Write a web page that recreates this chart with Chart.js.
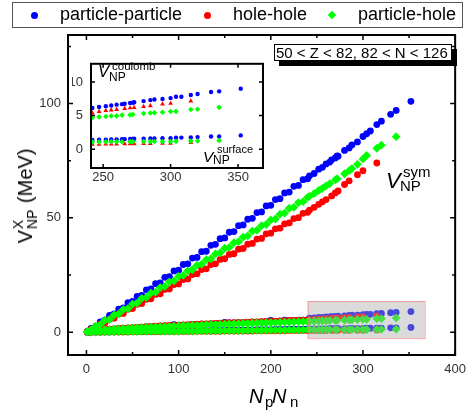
<!DOCTYPE html>
<html>
<head>
<meta charset="utf-8">
<script src="https://cdn.jsdelivr.net/npm/chart.js"></script>
<style>
body { margin: 0; background: #fff; }
#wrap { position: relative; width: 473px; height: 417px; overflow: hidden;
        font-family: Arial, "Liberation Sans", sans-serif; color: #000; }
#wrap canvas { position: absolute; }
.t { position: absolute; white-space: nowrap; line-height: 1; }
.i { font-style: italic; }
.legbox { position: absolute; left: 12px; top: 2px; width: 449px; height: 24px; border: 1px solid #555; }
.mk { position: absolute; }
.zbox { position: absolute; left: 274px; top: 44px; width: 178px; height: 17px; box-sizing: border-box;
        border: 1px solid #000; background: #fff; box-shadow: 5px 5px 0 #000;
        font-size: 15px; line-height: 15px; padding-left: 1px; white-space: nowrap; }
#ytitle { position: absolute; left: 25px; top: 196px; transform: translate(-50%, -50%) rotate(-90deg);
          font-size: 20px; white-space: nowrap; display: flex; align-items: center; }
#ytitle .stk { display: inline-flex; flex-direction: column; font-size: 14px; line-height: 1; margin: 0 1px; }
</style>
</head>
<body>
<div id="wrap">
  <canvas id="mainChart" width="473" height="417" style="left:0;top:0"></canvas>
  <canvas id="insetChart" width="198" height="140" style="left:72px;top:48px"></canvas>

  <div class="legbox"></div>
  <span class="mk" style="left:30.5px;top:11.5px;width:7px;height:7px;border-radius:50%;background:#0000ff"></span>
  <span class="t" style="left:60px;top:5px;font-size:18px">particle-particle</span>
  <span class="mk" style="left:203.5px;top:11.5px;width:7px;height:7px;border-radius:50%;background:#ff0000"></span>
  <span class="t" style="left:233px;top:5px;font-size:18px">hole-hole</span>
  <span class="mk" style="left:329px;top:12px;width:6px;height:6px;background:#00ff00;transform:rotate(45deg)"></span>
  <span class="t" style="left:358px;top:5px;font-size:18px">particle-hole</span>

  <div class="zbox">50 &lt; Z &lt; 82, 82 &lt; N &lt; 126</div>

  <span class="t i" style="left:386px;top:170px;font-size:22px">V</span>
  <span class="t" style="left:403px;top:164px;font-size:15px">sym</span>
  <span class="t" style="left:400px;top:178px;font-size:15px">NP</span>

  <span class="t i" style="left:98px;top:63px;font-size:16.5px">V</span>
  <span class="t" style="left:112px;top:60.5px;font-size:11.5px">coulomb</span>
  <span class="t" style="left:109px;top:70.5px;font-size:12px">NP</span>

  <span class="t i" style="left:203px;top:149px;font-size:15.5px">V</span>
  <span class="t" style="left:217px;top:143.5px;font-size:11px">surface</span>
  <span class="t" style="left:213px;top:153.5px;font-size:12px">NP</span>

  <div id="ytitle"><span>V</span><span class="stk"><span>X</span><span>NP</span></span><span>&nbsp;(MeV)</span></div>

  <span class="t i" style="left:249px;top:386px;font-size:20px">N</span>
  <span class="t" style="left:265px;top:394px;font-size:15px">p</span>
  <span class="t i" style="left:272px;top:386px;font-size:20px">N</span>
  <span class="t" style="left:290px;top:394px;font-size:15px">n</span>
</div>

<script>
// NpNn values of the densely filled part (x <= 240), shared by the three groups
const npnnLow = [1, 5, 10, 15, 20, 25, 30, 35, 40, 45, 50, 55, 60, 65, 70, 75, 80, 85, 90, 95,
  100, 105, 110, 115, 120, 125, 130, 135, 140, 145, 150, 155, 160, 165, 170, 175, 180, 185, 190, 195,
  200, 205, 210, 215, 220, 225, 230, 235, 240];

// discrete NpNn values above 240 (the zoomed region)
const npnnTailPP = [242, 247, 252, 256, 260, 264, 266, 270, 272, 273, 280, 285, 288, 294, 300, 304, 308, 315, 320, 330, 336, 352];
const npnnTailHH = [242, 247, 252, 256, 260, 266, 270, 273, 280, 285, 294, 300, 315];
const npnnTailPH = [242, 247, 252, 256, 260, 264, 270, 272, 280, 285, 288, 294, 300, 304, 315, 320, 336];

// particle-particle (low part, then tail)
const symPP = [0.3, 1.6, 2.5, 4.5, 5.2, 7.3, 8.0, 10.1, 10.6, 12.9, 13.4, 15.6, 16.1, 18.5, 18.9, 21.2, 21.5, 24.0, 24.3, 26.8,
  27.1, 29.6, 29.9, 32.4, 32.7, 35.2, 35.4, 38.0, 38.4, 40.9, 41.2, 43.7, 44.0, 46.6, 46.9, 49.4, 49.8, 52.3, 52.6, 55.2,
  55.5, 58.0, 58.4, 60.9, 61.3, 63.8, 64.2, 66.7, 67.1,
  68.4, 69.4, 71.3, 72.1, 73.6, 74.4, 75.4, 76.2, 77.1, 77.0, 79.5, 80.6, 81.9, 83.2, 85.6, 86.8, 88.0, 90.8, 92.3, 95.3, 97.0, 101.0];
const coulPP = [0.1, 0.4, 0.6, 0.8, 1.0, 1.2, 1.3, 1.5, 1.6, 1.8, 1.9, 2.0, 2.1, 2.3, 2.4, 2.5, 2.6, 2.7, 2.8, 3.3,
  3.0, 3.1, 3.2, 3.3, 3.4, 3.5, 3.5, 3.6, 3.7, 3.8, 4.3, 4.0, 4.0, 4.1, 4.2, 4.3, 4.4, 4.4, 4.5, 4.6,
  5.1, 4.7, 4.8, 5.3, 5.0, 5.0, 5.1, 5.2, 5.3,
  6.13, 6.27, 6.4, 6.5, 6.62, 6.7, 6.75, 6.87, 6.9, 6.98, 7.15, 7.3, 7.4, 7.47, 7.6, 7.8, 7.8, 8.05, 8.2, 8.5, 8.6, 9.0];
const surfPP = [0.0, 0.0, 0.1, 0.1, 0.1, 0.1, 0.2, 0.2, 0.2, 0.3, 0.3, 0.3, 0.3, 0.4, 0.4, 0.4, 0.5, 0.5, 0.5, 0.5,
  0.6, 0.6, 0.6, 0.7, 0.7, 0.7, 0.7, 0.8, 0.8, 0.8, 0.9, 0.9, 0.9, 0.9, 1.0, 1.0, 1.0, 1.1, 1.1, 1.1,
  1.1, 1.2, 1.2, 1.2, 1.3, 1.3, 1.3, 1.3, 1.4,
  1.38, 1.4, 1.42, 1.44, 1.46, 1.48, 1.5, 1.52, 1.53, 1.54, 1.56, 1.58, 1.6, 1.62, 1.63, 1.7, 1.72, 1.74, 1.8, 1.88, 1.9, 2.05];

// hole-hole
const symHH = [0.2, 1.3, 1.9, 3.5, 4.0, 5.7, 6.1, 7.9, 8.2, 10.0, 10.3, 12.2, 12.5, 14.4, 14.6, 16.5, 16.8, 18.7, 18.9, 20.8,
  21.1, 23.0, 23.3, 25.2, 25.5, 27.4, 27.7, 29.6, 29.9, 31.8, 32.1, 34.0, 34.3, 36.3, 36.6, 38.5, 38.8, 40.7, 41.0, 43.0,
  43.3, 45.2, 45.5, 47.4, 47.8, 49.7, 50.1, 52.0, 52.4,
  53.4, 54.6, 55.9, 57.0, 58.0, 59.6, 60.9, 61.8, 64.6, 66.2, 68.9, 70.6, 74.0];
const coulHH = [0.2, 0.5, 0.7, 0.9, 1.1, 1.3, 1.4, 1.6, 1.7, 1.9, 2.0, 2.1, 2.2, 2.4, 2.5, 2.6, 2.7, 2.8, 2.9, 3.0,
  3.1, 3.2, 3.3, 3.4, 3.5, 3.6, 3.6, 3.7, 3.8, 3.9, 4.0, 4.1, 4.1, 4.2, 4.3, 4.4, 4.5, 4.5, 4.6, 4.7,
  4.8, 4.8, 4.9, 5.0, 5.1, 5.1, 5.2, 5.3, 5.4,
  5.38, 5.6, 5.73, 5.82, 5.9, 6.05, 6.13, 6.18, 6.35, 6.45, 6.7, 6.8, 7.15];
const surfHH = [0.0, 0.0, 0.0, 0.0, 0.1, 0.1, 0.1, 0.1, 0.1, 0.1, 0.2, 0.2, 0.2, 0.2, 0.2, 0.2, 0.2, 0.3, 0.3, 0.3,
  0.3, 0.3, 0.3, 0.3, 0.4, 0.4, 0.4, 0.4, 0.4, 0.4, 0.5, 0.5, 0.5, 0.5, 0.5, 0.5, 0.5, 0.6, 0.6, 0.6,
  0.6, 0.6, 0.6, 0.6, 0.7, 0.7, 0.7, 0.7, 0.7,
  0.71, 0.72, 0.74, 0.75, 0.76, 0.78, 0.79, 0.8, 0.82, 0.83, 0.86, 0.88, 0.98];

// particle-hole
const symPH = [0.3, 1.0, 2.6, 3.3, 5.2, 5.5, 7.5, 8.0, 9.9, 10.3, 12.3, 12.7, 14.8, 15.2, 17.1, 17.5, 19.5, 20.0, 22.0, 22.4,
  24.4, 24.8, 26.8, 27.3, 29.3, 29.7, 31.7, 32.1, 34.2, 34.7, 36.7, 37.1, 39.1, 39.6, 41.6, 42.1, 44.2, 44.6, 46.6, 47.1,
  49.1, 49.5, 51.6, 52.1, 54.2, 54.6, 56.7, 57.1, 59.0,
  59.5, 60.6, 62.0, 62.9, 64.0, 65.0, 66.6, 67.1, 69.3, 70.6, 71.5, 73.4, 75.8, 77.3, 80.4, 81.8, 85.5];
const coulPH = [0.2, 0.4, 0.6, 0.8, 1.0, 1.1, 1.3, 1.4, 1.5, 1.6, 1.7, 1.9, 2.0, 2.1, 2.2, 2.3, 2.3, 2.4, 2.5, 2.6,
  2.7, 2.8, 2.9, 2.9, 3.0, 3.1, 3.2, 3.3, 3.3, 3.4, 3.5, 3.6, 3.6, 3.7, 3.8, 3.8, 3.9, 4.0, 4.0, 4.1,
  4.2, 4.2, 4.3, 4.4, 4.4, 4.5, 4.6, 4.6, 4.7,
  4.7, 4.8, 4.85, 4.93, 4.95, 5.07, 5.1, 5.15, 5.3, 5.38, 5.42, 5.5, 5.6, 5.62, 5.9, 5.93, 6.22];
const surfPH = [0.0, 0.0, 0.0, 0.1, 0.1, 0.1, 0.1, 0.2, 0.2, 0.2, 0.2, 0.2, 0.3, 0.3, 0.3, 0.3, 0.4, 0.4, 0.4, 0.4,
  0.4, 0.5, 0.5, 0.5, 0.5, 0.6, 0.6, 0.6, 0.6, 0.6, 0.7, 0.7, 0.7, 0.7, 0.7, 0.8, 0.8, 0.8, 0.8, 0.9,
  0.9, 0.9, 0.9, 0.9, 1.0, 1.0, 1.0, 1.0, 1.1,
  1.07, 1.08, 1.09, 1.1, 1.1, 1.11, 1.12, 1.12, 1.13, 1.14, 1.14, 1.15, 1.15, 1.16, 1.2, 1.22, 1.29];

// ticks
const mainXTicks = [0, 100, 200, 300, 400];
const mainXMinor = [50, 150, 250, 350];
const mainYTicks = [0, 50, 100];
const mainYMinor = [25, 75, 125];
const insetXTicks = [250, 300, 350];
const insetYTicks = [0, 5, 10];

// shaded region in the main plot that the inset magnifies
const zoomRegion = { x0: 240, x1: 367, y0: -2.6, y1: 13.6 };

Chart.defaults.font.family = 'Arial, "Liberation Sans", sans-serif';
Chart.defaults.color = '#333';

function pts(xs, ys) {
  return xs.map((x, i) => ({ x: x, y: ys[i] }));
}

const xPP = npnnLow.concat(npnnTailPP);
const xHH = npnnLow.concat(npnnTailHH);
const xPH = npnnLow.concat(npnnTailPH);

// first listed is drawn on top in Chart.js
const groups = [
  { xs: xPH, sym: symPH, coul: coulPH, surf: surfPH, color: '#00ff00', style: 'rectRot', r: 4.4, styleIn: 'rectRot', rIn: 2.8 },
  { xs: xHH, sym: symHH, coul: coulHH, surf: surfHH, color: '#ff0000', style: 'circle', r: 3.4, styleIn: 'triangle', rIn: 2.8 },
  { xs: xPP, sym: symPP, coul: coulPP, surf: surfPP, color: '#0000ff', style: 'circle', r: 3.4, styleIn: 'circle', rIn: 2.2 }
];

function ds(g, ys, style, r) {
  return {
    data: pts(g.xs, ys),
    pointStyle: style,
    pointRadius: r,
    pointBackgroundColor: g.color,
    pointBorderColor: g.color,
    pointBorderWidth: 0,
    showLine: false
  };
}

function frameTicks(xMajor, xMinor, yMajor, yMinor, big, small) {
  return {
    id: 'frameTicks',
    afterDraw(chart) {
      const { ctx, chartArea: a } = chart;
      const x = chart.scales.x, y = chart.scales.y;
      ctx.save();
      ctx.strokeStyle = '#000';
      ctx.lineWidth = 1.5;
      ctx.beginPath();
      [[xMajor, big], [xMinor, small]].forEach(([vals, len]) => {
        vals.forEach(v => {
          const px = x.getPixelForValue(v);
          ctx.moveTo(px, a.bottom); ctx.lineTo(px, a.bottom - len);
          ctx.moveTo(px, a.top); ctx.lineTo(px, a.top + len);
        });
      });
      [[yMajor, big], [yMinor, small]].forEach(([vals, len]) => {
        vals.forEach(v => {
          const py = y.getPixelForValue(v);
          ctx.moveTo(a.left, py); ctx.lineTo(a.left + len, py);
          ctx.moveTo(a.right, py); ctx.lineTo(a.right - len, py);
        });
      });
      ctx.stroke();
      ctx.lineWidth = 2;
      ctx.strokeRect(a.left, a.top, a.right - a.left, a.bottom - a.top);
      ctx.restore();
    }
  };
}

const shade = {
  id: 'shade',
  afterDatasetsDraw(chart) {
    const { ctx } = chart;
    const x = chart.scales.x, y = chart.scales.y;
    const l = x.getPixelForValue(zoomRegion.x0), r = x.getPixelForValue(zoomRegion.x1);
    const t = y.getPixelForValue(zoomRegion.y1), b = y.getPixelForValue(zoomRegion.y0);
    ctx.save();
    ctx.fillStyle = 'rgba(170,170,170,0.42)';
    ctx.fillRect(l, t, r - l, b - t);
    ctx.strokeStyle = 'rgba(255,110,110,0.6)';
    ctx.lineWidth = 1;
    ctx.strokeRect(l + 0.5, t + 0.5, r - l, b - t);
    ctx.restore();
  }
};

const whiteArea = {
  id: 'whiteArea',
  beforeDatasetsDraw(chart) {
    const { ctx, chartArea: a } = chart;
    ctx.save();
    ctx.fillStyle = '#fff';
    ctx.fillRect(a.left, a.top, a.right - a.left, a.bottom - a.top);
    ctx.restore();
  }
};

const mainSets = [];
groups.forEach(g => {
  mainSets.push(ds(g, g.sym, g.style, g.r));
  mainSets.push(ds(g, g.coul, g.style, g.r));
  mainSets.push(ds(g, g.surf, g.style, g.r));
});

new Chart(document.getElementById('mainChart'), {
  type: 'scatter',
  data: { datasets: mainSets },
  options: {
    responsive: false,
    animation: false,
    devicePixelRatio: 1,
    layout: { padding: { left: 0, top: 35, right: 10, bottom: 0 } },
    plugins: { legend: { display: false }, tooltip: { enabled: false } },
    scales: {
      x: {
        type: 'linear', min: -20, max: 400,
        grid: { display: false, drawTicks: false },
        border: { display: false },
        ticks: { font: { size: 13 }, padding: 7, maxRotation: 0 },
        afterBuildTicks: s => { s.ticks = mainXTicks.map(v => ({ value: v })); },
        afterFit: s => { s.height = 62; }
      },
      y: {
        type: 'linear', min: -10, max: 130,
        grid: { display: false, drawTicks: false },
        border: { display: false },
        ticks: { font: { size: 13 }, padding: 7 },
        afterBuildTicks: s => { s.ticks = mainYTicks.map(v => ({ value: v })); },
        afterFit: s => { s.width = 68; }
      }
    }
  },
  plugins: [shade, frameTicks(mainXTicks, mainXMinor, mainYTicks, mainYMinor, 5, 3)]
});

const insetSets = [];
groups.forEach(g => {
  insetSets.push(ds(g, g.coul, g.styleIn, g.rIn));
  insetSets.push(ds(g, g.surf, g.styleIn, g.rIn));
});

new Chart(document.getElementById('insetChart'), {
  type: 'scatter',
  data: { datasets: insetSets },
  options: {
    responsive: false,
    animation: false,
    devicePixelRatio: 1,
    layout: { padding: { left: 0, top: 4, right: 7, bottom: 0 } },
    plugins: { legend: { display: false }, tooltip: { enabled: false } },
    scales: {
      x: {
        type: 'linear', min: 241, max: 368.5,
        grid: { display: false, drawTicks: false },
        border: { display: false },
        ticks: { font: { size: 13 }, padding: 1.5, maxRotation: 0 },
        afterBuildTicks: s => { s.ticks = insetXTicks.map(v => ({ value: v })); },
        afterFit: s => { s.height = 20; }
      },
      y: {
        type: 'linear', min: -2.8, max: 12.7,
        grid: { display: false, drawTicks: false },
        border: { display: false },
        ticks: { font: { size: 13 }, padding: 8 },
        afterBuildTicks: s => { s.ticks = insetYTicks.map(v => ({ value: v })); },
        afterFit: s => { s.width = 19; }
      }
    }
  },
  plugins: [whiteArea, frameTicks(insetXTicks, [], insetYTicks, [], 4, 0)]
});
</script>
</body>
</html>
